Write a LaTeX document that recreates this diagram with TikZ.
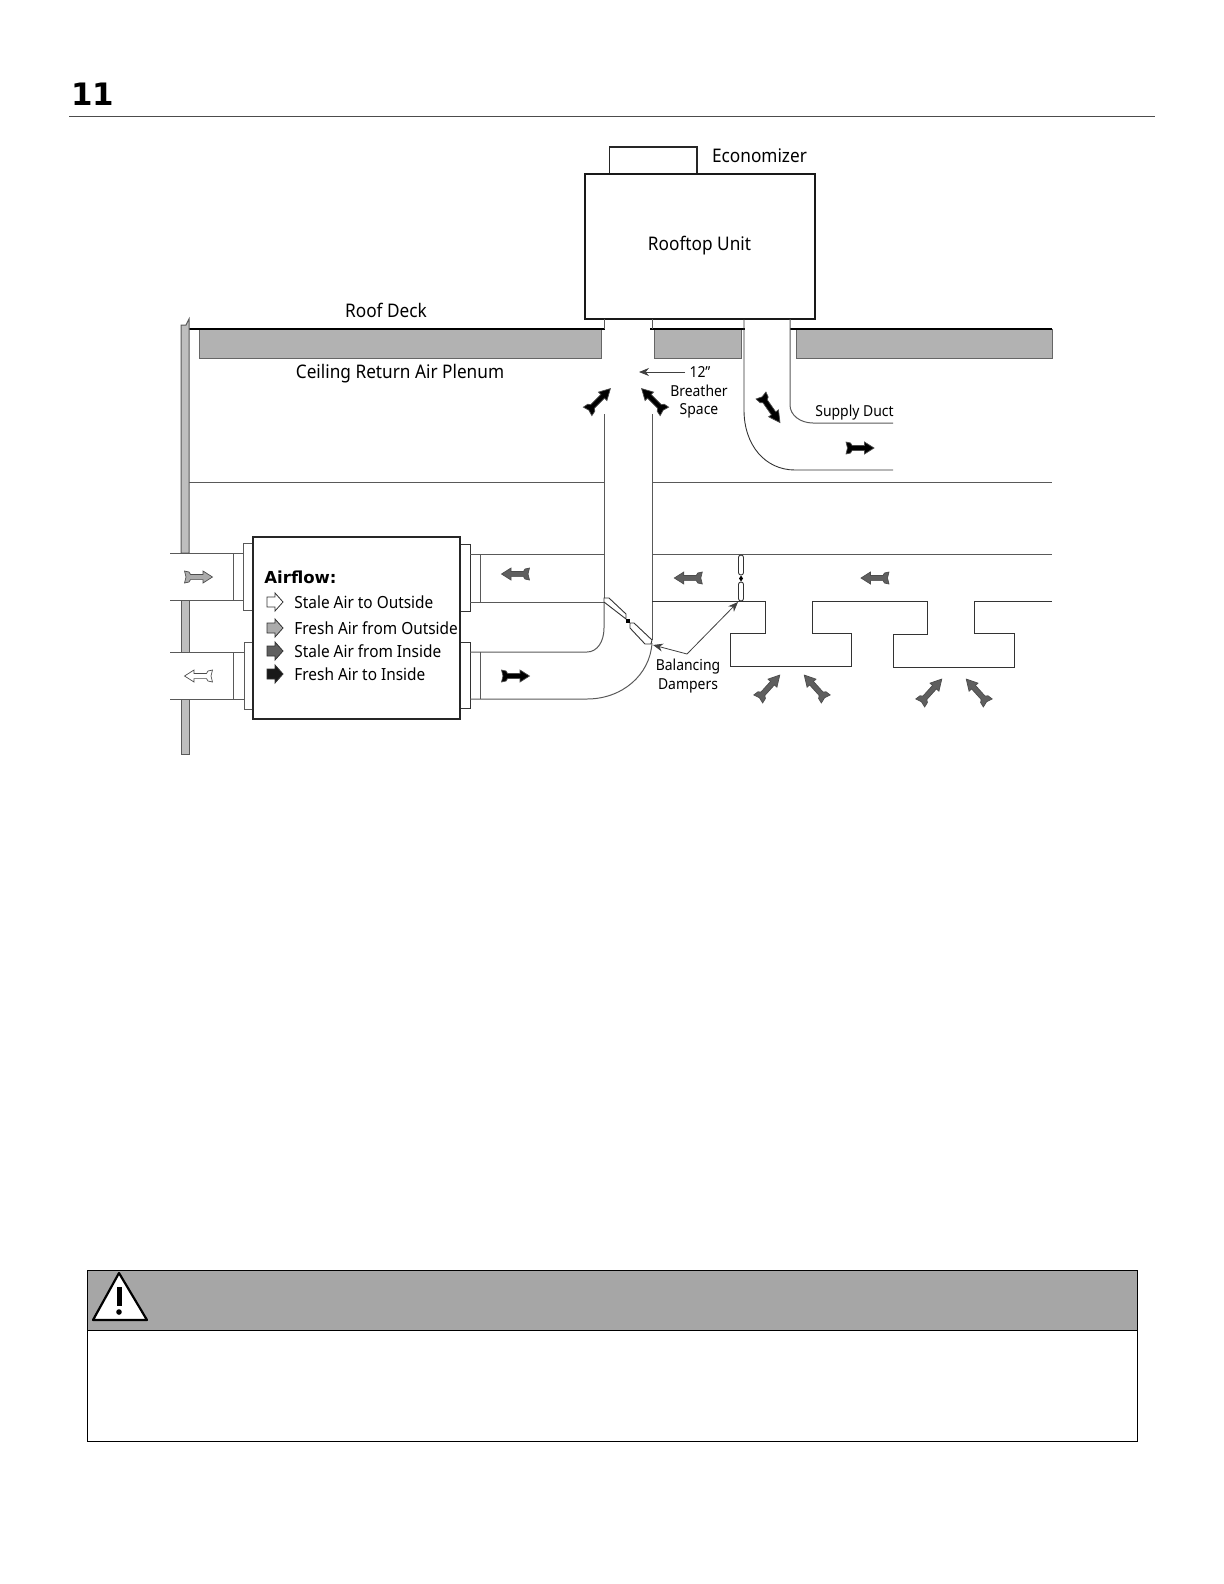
\documentclass[tikz,border=0pt]{standalone}
\usepackage{fontspec}
\setmainfont[FakeStretch=0.92]{Noto Sans}
\newfontfamily\headfont{DejaVu Sans}
\usepackage{tikz}
\usetikzlibrary{arrows.meta}
\definecolor{slabgray}{HTML}{B2B2B2}
\definecolor{wallgray}{HTML}{BEBEBE}
\definecolor{bargray}{HTML}{A6A6A6}
\definecolor{stalegray}{HTML}{5F5F5F}
\definecolor{freshgray}{HTML}{ABABAB}
\tikzset{
  duct/.style={draw=black!65,line width=0.5pt},
  ductdark/.style={draw=black!80,line width=0.45pt},
  roofline/.style={draw=black,line width=0.7pt},
  slab/.style={fill=slabgray,draw=black!60,line width=0.5pt},
  lab/.style={font=\fontsize{9.4}{11}\selectfont,inner sep=0pt,align=center},
  smalllab/.style={font=\fontsize{7.6}{9}\selectfont,inner sep=0pt,align=center},
  legendlab/.style={font=\fontsize{8.4}{10}\selectfont,inner sep=0pt,anchor=west},
  leader/.style={draw=black!75,line width=0.4pt,-{Stealth[length=5pt,width=4pt]}}
}
\begin{document}
\begin{tikzpicture}[x=0.5bp,y=-0.5bp,>=Stealth]
\useasboundingbox (0,0) rectangle (1224,1584);
% page head
\node[font=\headfont\bfseries\fontsize{15.5}{20}\selectfont,inner sep=0pt] (pagenum) at (92.5,94) {11};
\coordinate (ruleL) at (69,116); \coordinate (ruleR) at (1155,116);
\draw[black!70,line width=0.5pt] (ruleL) -- (ruleR);
% rooftop unit
\draw[draw=black!85,line width=0.55pt] (609.5,174) rectangle (697,147);
\node[draw=black!90,line width=0.65pt,minimum width=115bp,minimum height=72.5bp,inner sep=0pt] (rtu) at (700,246.5) {};
\node[lab] (rtulab) at (699.5,246) {Rooftop Unit};
\node[lab] (econ) at (759.5,156) {Economizer};
% roof deck and slabs
\foreach \xa/\xb in {199/601,654/741,796/1052}
  \draw[slab] (\xa,329) rectangle (\xb,358);
\draw[roofline] (189,329) -- (604.5,329);
\draw[roofline] (650,329) -- (745,329);
\draw[roofline] (790,329) -- (1052,329);
\node[lab] (roofdeck) at (386,310) {Roof Deck};
\node[lab] (plenum) at (400,373.5) {Ceiling Return Air Plenum};
% wall
\foreach \ya/\yb in {600/652,699/754}
  \draw[fill=wallgray,draw=black!65,line width=0.5pt] (181,\ya) rectangle (189,\yb);
\draw[fill=wallgray,draw=black!65,line width=0.5pt] (181,553) -- (181,325) -- (186,325) -- (189,319) -- (189,553) -- cycle;
% return and supply duct
\draw[duct] (604.5,319) -- (604.5,329); \draw[duct] (652,319) -- (652,329);
\draw[duct] (604.5,414) -- (604.5,602); \draw[duct] (652,414) -- (652,640);
\draw[duct] (189,482) -- (604.5,482); \draw[duct] (652,482) -- (1052,482);
\draw[ductdark] (744,319) -- (744,410) .. controls (744,445) and (765,470) .. (795,470) -- (893,470);
\draw[duct] (790,319) -- (790,405) .. controls (790,415) and (800,423) .. (813,423) -- (893,423);
% air handler
\draw[duct] (170,553) -- (243,553); \draw[duct] (170,600) -- (243,600);
\draw[duct] (170,652) -- (244,652); \draw[duct] (170,699) -- (244,699);
\draw[duct] (233,553) -- (233,600); \draw[duct] (233,652) -- (233,699);
\draw[duct,fill=white] (243,543) rectangle (253,610);
\draw[duct,fill=white] (244,642) rectangle (253,709);
\draw[ductdark,fill=white] (460,544) rectangle (470,611);
\draw[ductdark,fill=white] (460,642) rectangle (470,708);
\node[draw=black!85,line width=0.55pt,fill=white,minimum width=103.5bp,minimum height=91bp,inner sep=0pt] (erv) at (356.5,628) {};
\draw[duct] (480,555) -- (480,602); \draw[duct] (480,652) -- (480,699);
\draw[duct] (470,554) -- (604,554); \draw[duct] (470,602) -- (604,602);
\draw[duct] (470,652) -- (587,652) .. controls (597,652) and (604,642) .. (604,628) -- (604,602);
\draw[duct] (470,699) -- (587,699) .. controls (622,699) and (650,675) .. (652,643);
% return branch and grilles
\draw[duct] (652,554) -- (1052,554);
\draw[ductdark] (652,601) -- (765,601) -- (765,633) -- (730,633) -- (730,666) -- (851,666) -- (851,633) -- (812,633) -- (812,601) -- (927,601) -- (927,634) -- (893,634) -- (893,667) -- (1014,667) -- (1014,633) -- (974,633) -- (974,601) -- (1052,601);
% dampers
\draw[ductdark,fill=white] (604,598) -- (609,598) -- (626,614) -- (626,619) -- (604,602) -- cycle;
\draw[ductdark,fill=white] (630,623) -- (634,623) -- (652,640) -- (651,644) -- (645,644) -- (630,628) -- cycle;
\fill[black] (626,619) rectangle (630,623);
\draw[ductdark,fill=white,rounded corners=1.2pt] (738.5,555) rectangle (743.5,575);
\draw[ductdark,fill=white,rounded corners=1.2pt] (738.5,582) rectangle (743.5,601);
\fill[black] (741,575.5) -- (743,578.5) -- (741,581.5) -- (739,578.5) -- cycle;
% flow arrows: x/y/angle/stretch/colour
\foreach \x/\y/\a/\s/\c in {198.5/577/0/1/freshgray,198.5/676/180/1/white,
  515.5/574/180/1/stalegray,515.5/676/0/1/black,688.3/578/180/1/stalegray,
  875/578/180/1/stalegray,860/448/0/1/black,770.5/409/-55/1.18/black,
  599/400/45/1.15/black,653/400/135/1.15/black,769/687/48/1.15/stalegray,
  815/687/132/1.15/stalegray,931/691/48/1.15/stalegray,977/691/132/1.15/stalegray}
  \draw[shift={(\x,\y)},rotate=\a,xscale=\s,fill=\c,draw=black!70,line width=0.35pt]
    (-14,-6) -- (-9.5,-5) -- (-8,-2.6) -- (4.5,-2.6) -- (4.5,-6) -- (14,0) -- (4.5,6) -- (4.5,2.6) -- (-8,2.6) -- (-9.5,5) -- (-14,6) -- (-12.5,0) -- cycle;
% legend
\node[font=\headfont\bfseries\fontsize{8.3}{12}\selectfont,inner sep=0pt,anchor=west] (airflow) at (264,577) {Airflow:};
\foreach \y/\c/\lab in {602/white/Stale Air to Outside,628/freshgray/Fresh Air from Outside,
  651/stalegray/Stale Air from Inside,674/black!90/Fresh Air to Inside}{
  \draw[fill=\c,draw=black!80,line width=0.4pt] (267,\y-5) -- (275,\y-5) -- (275,\y-9) -- (283,\y) -- (275,\y+9) -- (275,\y+5) -- (267,\y+5) -- cycle;
  \node[legendlab] at (294,\y) {\lab};
}
% labels with leaders
\node[smalllab] (twelve) at (700,372) {12”};
\coordinate (gap) at (639,372);
\draw[leader] (twelve.west) ++(-2pt,0) -- (gap);
\node[smalllab] (breather) at (699,391) {Breather};
\node[smalllab] (space) at (699,411) {Space};
\node[smalllab] (supply) at (854.5,413) {Supply Duct};
\node[smalllab] (balancing) at (688,667) {Balancing};
\node[smalllab] (dampers) at (688,685.5) {Dampers};
\coordinate (bend) at (687,654); \coordinate (damperA) at (653,645); \coordinate (damperB) at (738,602);
\draw[leader] (bend) -- (damperA);
\draw[leader] (bend) -- (damperB);
% warning box
\draw[fill=bargray,draw=black,line width=0.45pt] (87,1270.5) rectangle (1137,1330);
\draw[draw=black,line width=0.45pt] (87,1330) rectangle (1137,1441);
\draw[fill=white,draw=black,line width=1.1pt,line join=round] (119,1273) -- (147,1320) -- (93,1320) -- cycle;
\fill[black] (116.5,1287) rectangle (121.5,1306);
\fill[black] (119,1312) circle (2.8);
\end{tikzpicture}
\end{document}
